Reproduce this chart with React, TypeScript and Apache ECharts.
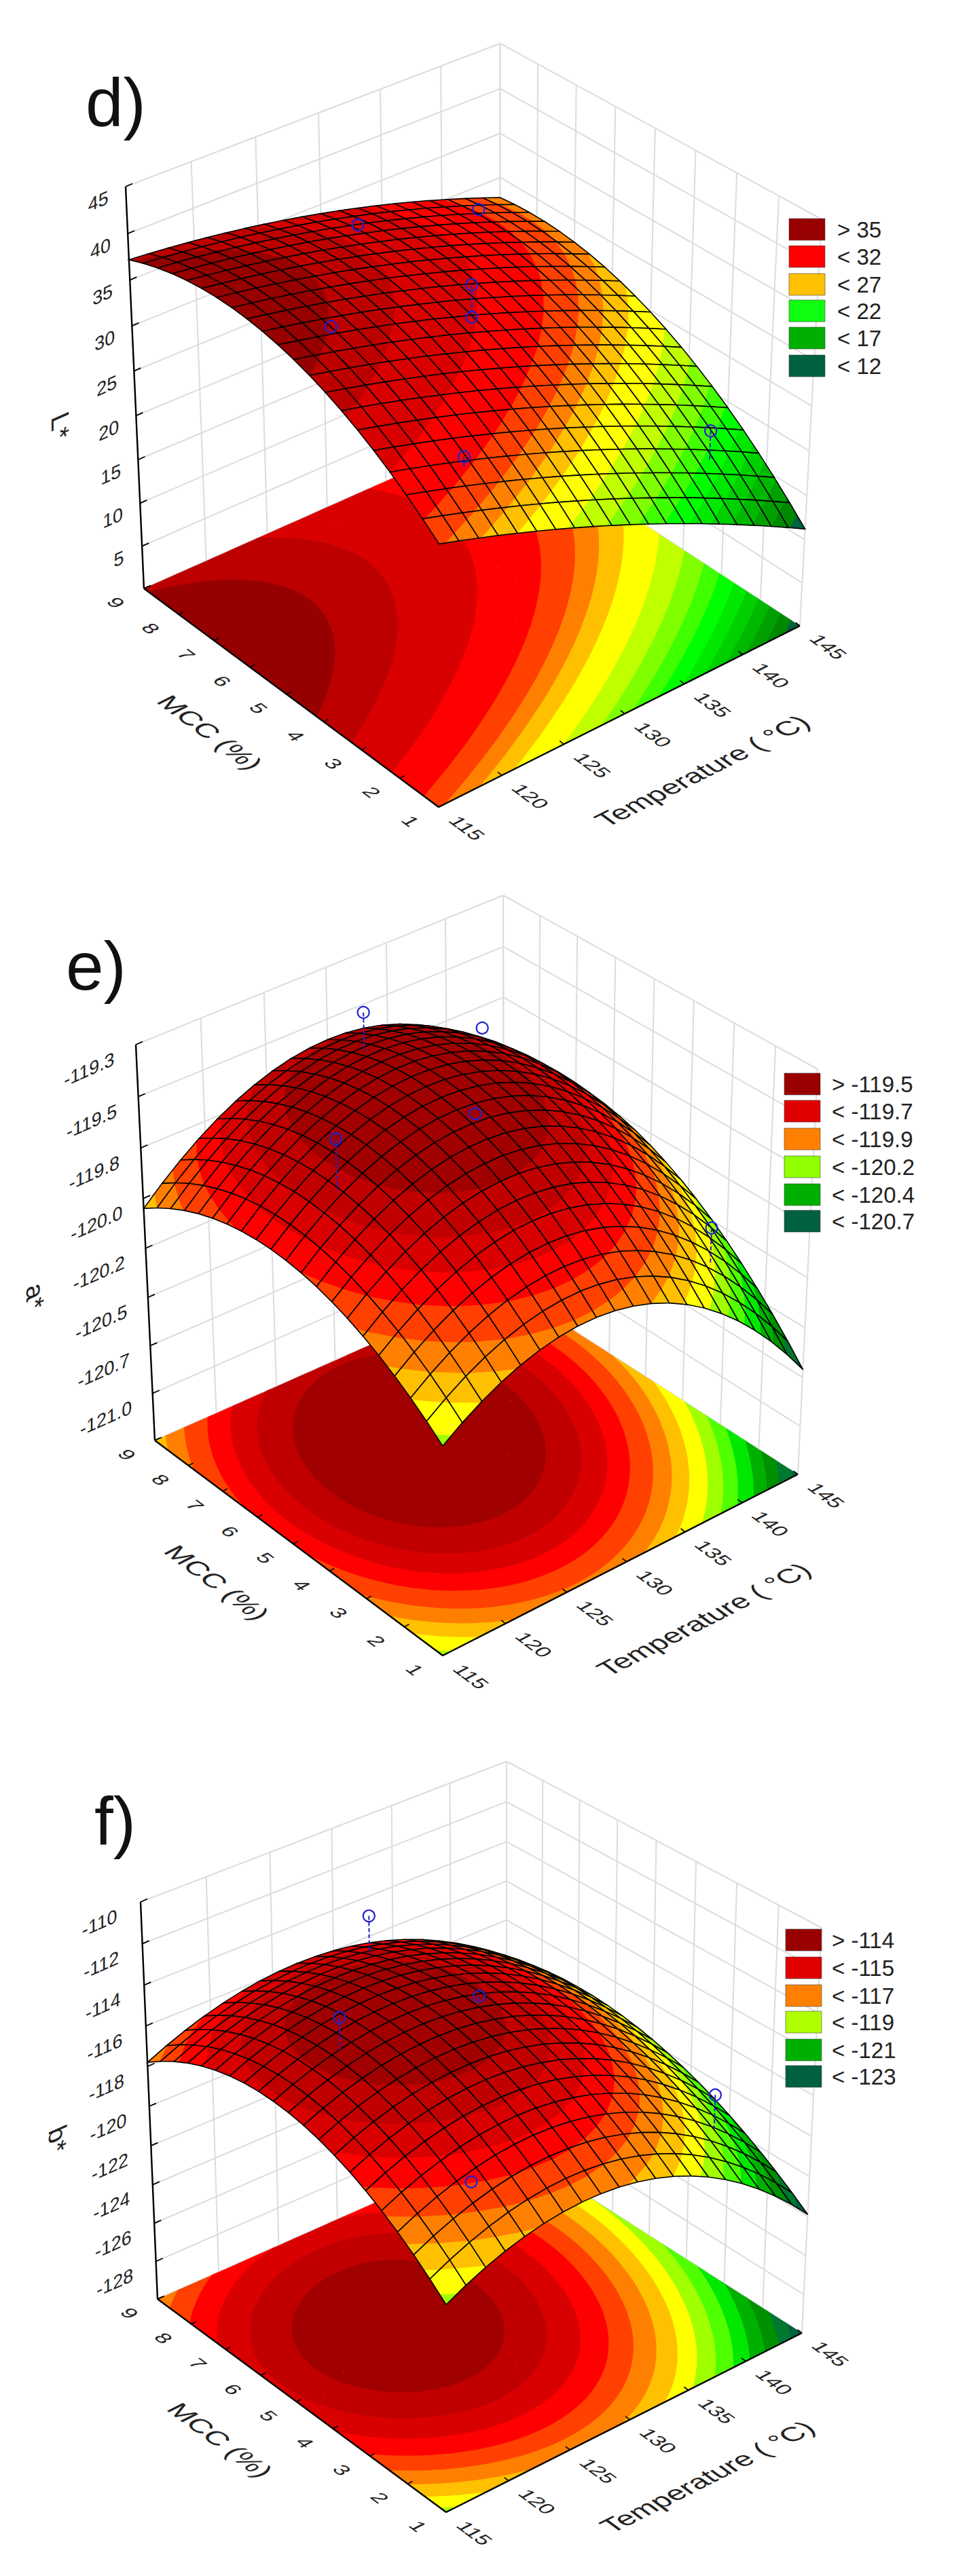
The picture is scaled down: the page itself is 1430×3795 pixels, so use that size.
import React, { useEffect, useRef } from "react";
import * as echarts from "echarts";

// ---------- axis ticks ----------
const tempTicks = [115, 120, 125, 130, 135, 140, 145];
const mccTicks = [1, 2, 3, 4, 5, 6, 7, 8, 9];

const dZTicks = [45, 40, 35, 30, 25, 20, 15, 10, 5, 0];
const dZLabels = ["45", "40", "35", "30", "25", "20", "15", "10", "5", ""];
const eZTicks = [-119.25, -119.5, -119.75, -120, -120.25, -120.5, -120.75, -121, -121.25];
const eZLabels = ["-119.3", "-119.5", "-119.8", "-120.0", "-120.2", "-120.5", "-120.7", "-121.0", ""];
const fZTicks = [-110, -112, -114, -116, -118, -120, -122, -124, -126, -128, -130];
const fZLabels = ["-110", "-112", "-114", "-116", "-118", "-120", "-122", "-124", "-126", "-128", ""];

// ---------- surface heights ----------
// Rows: temperature (115, 130, 145). Columns: MCC (1, 5, 9). The mesh between these
// read values is a quadratic resampling, since the plotted surface is a quadratic fit.
const tempNodes = [115, 130, 145];
const mccNodes = [1, 5, 9];
const dSurface = [
  [28.7, 38.5, 37.2],
  [21.2, 33.0, 34.0],
  [11.2, 24.8, 27.7],
];
const eSurface = [
  [-120.2, -119.82, -120.05],
  [-119.97, -119.47, -119.6],
  [-120.71, -120.06, -120.04],
];
const fSurface = [
  [-119.6, -115.5, -117.8],
  [-118.1, -114.4, -116.0],
  [-123.9, -119.8, -119.9],
];

// ---------- measured points: temperature, MCC, observed, fitted ----------
const dPoints = [
  [119, 5, 38.1, 38.1],
  [133, 9, 31.1, 31.1],
  [130, 5, 36.3, 32.8],
  [130, 5, 32.8, 32.8],
  [140, 8, 31.5, 31.5],
  [120, 2, 31.9, 30.8],
  [140, 2, 22.5, 19.3],
];
const ePoints = [
  [119, 5, -119.35, -119.59],
  [133, 9, -119.54, -119.73],
  [130, 5, -119.52, -119.52],
  [140, 8, -119.68, -119.68],
  [140, 2, -119.99, -120.17],
];
const fPoints = [
  [119, 5, -112.05, -113.58],
  [133, 9, -114.98, -116.86],
  [130, 5, -113.88, -114.2],
  [120, 2, -116.5, -116.5],
  [140, 2, -117.82, -119.44],
];

// ---------- contour levels (lower bound of each band) and colours ----------
const dLevels = [37.4, 35.6, 32.8, 30.1, 28.5, 27.3, 26, 24, 22.3, 20.8, 19.5, 18.2, 17, 15.8, 14.6, 13.4, 12.2];
const eLevels = [-119.5, -119.58, -119.67, -119.75, -119.83, -119.92, -120, -120.08, -120.17, -120.25, -120.33, -120.42, -120.5, -120.58, -120.67, -120.75];
const fLevels = [-114, -114.67, -115.33, -116, -116.67, -117.33, -118, -118.67, -119.33, -120, -120.67, -121.33, -122, -122.67, -123.33, -124];

const dBandColors = ["#960000", "#bc0000", "#d80000", "#ff0000", "#ff4000", "#ff8000", "#ffc000", "#ffff00", "#c0ff00", "#80ff00", "#40ff00", "#00ff00", "#00e800", "#00d000", "#00b800", "#00a000", "#008800", "#006040"];
const efBandColors = ["#a00000", "#a00000", "#c00000", "#d80000", "#ff0000", "#ff4000", "#ff8000", "#ffc000", "#ffff00", "#a0ff00", "#50ff00", "#00e800", "#00b000", "#009000", "#007830", "#006040", "#005040"];

// ---------- legends ----------
const dLegendLabels = ["> 35", "< 32", "< 27", "< 22", "< 17", "< 12"];
const dLegendColors = ["#990000", "#ff0000", "#ffc000", "#10ff10", "#00b000", "#006040"];
const eLegendLabels = ["> -119.5", "< -119.7", "< -119.9", "< -120.2", "< -120.4", "< -120.7"];
const eLegendColors = ["#990000", "#e00000", "#ff8000", "#90ff00", "#00b000", "#006040"];
const fLegendLabels = ["> -114", "< -115", "< -117", "< -119", "< -121", "< -123"];
const fLegendColors = ["#990000", "#e00000", "#ff8000", "#b0ff00", "#00b000", "#006040"];

// ---------- page layout of each 3D box ----------
const W = 1430;
const H = 3795;
const FONT = '"Liberation Sans", Arial, sans-serif';
const PERSPECTIVE = 1.06;
const MESH = 20;
const FLOOR_CELLS = 50;

type P = number[];
const panels = [
  {
    tag: "d)", tagPos: [126, 151], zTitle: "L*", zTitlePos: [89, 628],
    surface: dSurface, points: dPoints, levels: dLevels, colors: dBandColors,
    zTicks: dZTicks, zLabels: dZLabels, legendLabels: dLegendLabels, legendColors: dLegendColors,
    legendX: 1162, legendTextX: 1233, legendY: [322, 362, 403, 442, 482, 523], zLabelOff: [-28, 16],
    LF: [212, 867], FF: [646, 1189], RF: [1178, 922], BF: [736.5, 634],
    LT: [185, 275], FT: [647, 568], RT: [1210, 323], BT: [736.5, 64],
  },
  {
    tag: "e)", tagPos: [97, 1423], zTitle: "a*", zTitlePos: [52, 1910],
    surface: eSurface, points: ePoints, levels: eLevels, colors: efBandColors,
    zTicks: eZTicks, zLabels: eZLabels, legendLabels: eLegendLabels, legendColors: eLegendColors,
    legendX: 1155, legendTextX: 1225, legendY: [1581, 1621, 1662, 1703, 1744, 1783], zLabelOff: [-32, 20],
    LF: [228, 2122], FF: [652, 2439], RF: [1175, 2172], BF: [742, 1894],
    LT: [200, 1539], FT: [652, 1834], RT: [1204, 1575], BT: [741, 1319],
  },
  {
    tag: "f)", tagPos: [139, 2683], zTitle: "b*", zTitlePos: [85, 3152],
    surface: fSurface, points: fPoints, levels: fLevels, colors: efBandColors,
    zTicks: fZTicks, zLabels: fZLabels, legendLabels: fLegendLabels, legendColors: fLegendColors,
    legendX: 1157, legendTextX: 1225, legendY: [2842, 2883, 2924, 2963, 3004, 3043], zLabelOff: [-36, 20],
    LF: [232, 3387], FF: [657, 3701], RF: [1181, 3437], BF: [746, 3159],
    LT: [207, 2802], FT: [657, 3096], RT: [1210, 2840], BT: [746, 2595],
  },
];

// Homography from the unit square to a quad (p0 at 0,0; p1 at 1,0; p2 at 1,1; p3 at 0,1).
function quadMap(p0: P, p1: P, p2: P, p3: P) {
  const dx1 = p1[0] - p2[0], dx2 = p3[0] - p2[0], sx = p0[0] - p1[0] + p2[0] - p3[0];
  const dy1 = p1[1] - p2[1], dy2 = p3[1] - p2[1], sy = p0[1] - p1[1] + p2[1] - p3[1];
  const det = dx1 * dy2 - dx2 * dy1;
  const g = (sx * dy2 - dx2 * sy) / det;
  const h = (dx1 * sy - sx * dy1) / det;
  const a = p1[0] - p0[0] + g * p1[0], b = p3[0] - p0[0] + h * p3[0];
  const d = p1[1] - p0[1] + g * p1[1], e = p3[1] - p0[1] + h * p3[1];
  return (u: number, v: number): P => {
    const q = g * u + h * v + 1;
    return [(a * u + b * v + p0[0]) / q, (d * u + e * v + p0[1]) / q];
  };
}

function makeProjector(p: any) {
  const bottom = quadMap(p.FF, p.RF, p.BF, p.LF);
  const top = quadMap(p.FT, p.RT, p.BT, p.LT);
  const zMax = p.zTicks[0];
  const zMin = p.zTicks[p.zTicks.length - 1];
  return (t: number, m: number, z: number): P => {
    const u = (t - 115) / 30, v = (m - 1) / 8;
    const w = (z - zMin) / (zMax - zMin);
    const k = w / (w + PERSPECTIVE * (1 - w));
    const a = bottom(u, v), b = top(u, v);
    return [a[0] + (b[0] - a[0]) * k, a[1] + (b[1] - a[1]) * k];
  };
}

function quadBasis(t: number) {
  return [2 * (t - 0.5) * (t - 1), -4 * t * (t - 1), 2 * t * (t - 0.5)];
}

function heightAt(table: number[][], t: number, m: number) {
  const a = quadBasis((t - tempNodes[0]) / (tempNodes[2] - tempNodes[0]));
  const b = quadBasis((m - mccNodes[0]) / (mccNodes[2] - mccNodes[0]));
  let s = 0;
  for (let i = 0; i < 3; i++) for (let j = 0; j < 3; j++) s += a[i] * b[j] * table[i][j];
  return s;
}

function clip(poly: P[], level: number, above: boolean) {
  const out: P[] = [];
  for (let i = 0; i < poly.length; i++) {
    const a = poly[i], b = poly[(i + 1) % poly.length];
    const ia = above ? a[2] >= level : a[2] <= level;
    const ib = above ? b[2] >= level : b[2] <= level;
    if (ia) out.push(a);
    if (ia !== ib) {
      const r = (level - a[2]) / (b[2] - a[2]);
      out.push([a[0] + (b[0] - a[0]) * r, a[1] + (b[1] - a[1]) * r, level]);
    }
  }
  return out;
}

function bandOf(levels: number[], z: number) {
  for (let i = 0; i < levels.length; i++) if (z >= levels[i]) return i;
  return levels.length;
}

const unit = (a: P, b: P): P => {
  const l = Math.hypot(b[0] - a[0], b[1] - a[1]);
  return [(b[0] - a[0]) / l, (b[1] - a[1]) / l];
};

// Text laid on a plane: ex and ey are the images of the glyph's right and down directions.
function planeText(text: string, pos: P, ex: P, ey: P, fontSize: number, fill = "#222") {
  const [a, c] = ex, [b, d] = ey;
  const E = (a + d) / 2, F = (a - d) / 2, G = (c + b) / 2, K = (c - b) / 2;
  const Q = Math.hypot(E, K), R = Math.hypot(F, G);
  const a1 = Math.atan2(G, F), a2 = Math.atan2(K, E);
  const theta = (a2 - a1) / 2, phi = (a2 + a1) / 2;
  return {
    type: "group", x: pos[0], y: pos[1], rotation: -phi, scaleX: Q + R, scaleY: Q - R,
    children: [{
      type: "text", rotation: -theta,
      style: { text, x: 0, y: 0, fontSize, fontFamily: FONT, fill, align: "center", verticalAlign: "middle" },
    }],
  };
}

function buildSeries() {
  const series: any[] = [];
  panels.forEach((p: any) => {
    const proj = makeProjector(p);
    const zMax = p.zTicks[0];
    const zMin = p.zTicks[p.zTicks.length - 1];
    const eT = unit(p.FF, p.RF);
    const eM = unit(p.FF, p.LF);
    const eW = unit(p.LF, p.BF);
    const base = { type: "custom", coordinateSystem: "cartesian2d", silent: true, clip: false, progressive: 0, encode: { x: 0, y: 1 } };

    // Walls: gridlines first
    series.push({
      ...base,
      data: [[0, 0]],
      renderItem: (_: any, api: any) => {
        const c = (q: P) => api.coord([q[0], q[1]]);
        const ln = (a: P, b: P, stroke: string, lineWidth: number) => {
          const A = c(a), B = c(b);
          return { type: "line", shape: { x1: A[0], y1: A[1], x2: B[0], y2: B[1] }, style: { stroke, lineWidth } };
        };
        const grid = "#dcdcdc";
        const kids: any[] = [];
        tempTicks.forEach((t) => kids.push(ln(proj(t, 9, zMin), proj(t, 9, zMax), grid, 2)));
        mccTicks.forEach((m) => kids.push(ln(proj(145, m, zMin), proj(145, m, zMax), grid, 2)));
        p.zTicks.forEach((z: number) => {
          kids.push(ln(proj(115, 9, z), proj(145, 9, z), grid, 2));
          kids.push(ln(proj(145, 9, z), proj(145, 1, z), grid, 2));
        });
        return { type: "group", children: kids };
      },
    });

    // Floor contour bands
    const bandCount = p.levels.length + 1;
    const bandPolys: P[][][] = Array.from({ length: bandCount }, () => []);
    for (let i = 0; i < FLOOR_CELLS; i++) {
      for (let j = 0; j < FLOOR_CELLS; j++) {
        const corners = [[i, j], [i + 1, j], [i + 1, j + 1], [i, j + 1]].map(([a, b]) => {
          const t = 115 + (30 * a) / FLOOR_CELLS, m = 1 + (8 * b) / FLOOR_CELLS;
          const s = proj(t, m, zMin);
          return [s[0], s[1], heightAt(p.surface, t, m)];
        });
        const zs = corners.map((q) => q[2]);
        const hi = bandOf(p.levels, Math.max(...zs));
        const lo = bandOf(p.levels, Math.min(...zs));
        for (let b = hi; b <= lo; b++) {
          let poly: P[] = corners;
          if (b < p.levels.length) poly = clip(poly, p.levels[b], true);
          if (b > 0) poly = clip(poly, p.levels[b - 1] + Math.abs(p.levels[0] - p.levels[1]) * 0.15, false);
          if (poly.length > 2) bandPolys[b].push(poly);
        }
      }
    }
    const floorOrder = bandPolys.map((_, i) => bandCount - 1 - i);
    series.push({
      ...base,
      data: floorOrder.map((b) => [b, 0]),
      renderItem: (params: any, api: any) => {
        const b = floorOrder[params.dataIndex];
        const polys = bandPolys[b];
        if (!polys.length) return { type: "group", children: [] };
        let d = "";
        polys.forEach((poly) => {
          poly.forEach((q, k) => {
            const s = api.coord([q[0], q[1]]);
            d += (k ? "L" : "M") + s[0].toFixed(1) + " " + s[1].toFixed(1);
          });
          d += "Z";
        });
        return { type: "path", shape: { pathData: d }, style: { fill: p.colors[b], stroke: null } };
      },
    });

    // Box axes, ticks and labels (under the surface)
    series.push({
      ...base,
      data: [[0, 0]],
      renderItem: (_: any, api: any) => {
        const c = (q: P) => api.coord([q[0], q[1]]);
        const ln = (a: P, b: P, lineWidth: number) => {
          const A = c(a), B = c(b);
          return { type: "line", shape: { x1: A[0], y1: A[1], x2: B[0], y2: B[1] }, style: { stroke: "#000", lineWidth } };
        };
        const kids: any[] = [];
        kids.push(ln(proj(115, 1, zMin), proj(145, 1, zMin), 2.4));
        kids.push(ln(proj(115, 1, zMin), proj(115, 9, zMin), 2.4));
        kids.push(ln(proj(115, 9, zMin), proj(115, 9, zMax), 2.4));
        tempTicks.forEach((t) => {
          const q = proj(t, 1, zMin);
          kids.push(ln(q, [q[0] + eM[0] * 8, q[1] + eM[1] * 8], 1.6));
          kids.push(planeText(String(t), c([q[0] - eM[0] * 52, q[1] - eM[1] * 52]),
            [-eM[0] * 1.12, -eM[1] * 1.12], [-eT[0], -eT[1]], 28));
        });
        mccTicks.forEach((m) => {
          const q = proj(115, m, zMin);
          kids.push(ln(q, [q[0] + eT[0] * 8, q[1] + eT[1] * 8], 1.6));
          kids.push(planeText(String(m), c([q[0] - eT[0] * 46, q[1] - eT[1] * 46]),
            [-eM[0] * 1.12, -eM[1] * 1.12], [-eT[0], -eT[1]], 28));
        });
        p.zTicks.forEach((z: number, i: number) => {
          const q = proj(115, 9, z);
          kids.push(ln(q, [q[0] + eW[0] * 11, q[1] + eW[1] * 11], 1.8));
          if (p.zLabels[i]) {
            kids.push(planeText(p.zLabels[i], c([q[0] + p.zLabelOff[0] - 40 * eW[0] * (p.zLabels[i].length / 6), q[1] + p.zLabelOff[1] - 40 * eW[1] * (p.zLabels[i].length / 6)]),
              [eW[0] * 1.05, eW[1] * 1.05], [0, 1], 28));
          }
        });
        const t130 = proj(130, 1, zMin);
        kids.push(planeText("Temperature ( \u00b0C)", c([t130[0] - eM[0] * 142, t130[1] - eM[1] * 142]),
          [eT[0] * 1.12, eT[1] * 1.12], [-eM[0], -eM[1]], 38));
        const m5 = proj(115, 5, zMin);
        kids.push(planeText("MCC (%)", c([m5[0] - eT[0] * 126, m5[1] - eT[1] * 126]),
          [-eM[0] * 1.1, -eM[1] * 1.1], [-eT[0], -eT[1]], 38));
        kids.push(planeText(p.zTitle, c(p.zTitlePos), [0, 1], [-eW[0], -eW[1]], 40));
        const tg = c(p.tagPos);
        kids.push({ type: "text", style: { text: p.tag, x: tg[0], y: tg[1], fontSize: 100, fontFamily: FONT, fill: "#111", align: "left", verticalAlign: "middle" } });
        p.legendLabels.forEach((label: string, i: number) => {
          const q = c([p.legendX, p.legendY[i]]);
          const q2 = c([p.legendX + 53, p.legendY[i] + 32]);
          kids.push({
            type: "rect", shape: { x: q[0], y: q[1], width: q2[0] - q[0], height: q2[1] - q[1] },
            style: { fill: p.legendColors[i], stroke: "#444", lineWidth: 0.6 },
          });
          const tx = c([p.legendTextX, p.legendY[i] + 16]);
          kids.push({ type: "text", style: { text: label, x: tx[0], y: tx[1], fontSize: 33, fontFamily: FONT, fill: "#222", align: "left", verticalAlign: "middle" } });
        });
        return { type: "group", children: kids };
      },
    });

    // Surface: cells painted from the far corner to the near corner
    const cells: number[][] = [];
    for (let i = MESH - 1; i >= 0; i--) for (let j = MESH - 1; j >= 0; j--) cells.push([i, j]);
    const node = (a: number, b: number) => {
      const t = 115 + (30 * a) / MESH, m = 1 + (8 * b) / MESH;
      const z = heightAt(p.surface, t, m);
      const s = proj(t, m, z);
      return [s[0], s[1], z];
    };
    series.push({
      ...base,
      data: cells,
      renderItem: (params: any, api: any) => {
        const [i, j] = cells[params.dataIndex];
        const quad = [node(i, j), node(i + 1, j), node(i + 1, j + 1), node(i, j + 1)];
        const toPx = (poly: P[]) => poly.map((q) => api.coord([q[0], q[1]]));
        const zs = quad.map((q) => q[2]);
        const lo = bandOf(p.levels, Math.min(...zs));
        const hi = bandOf(p.levels, Math.max(...zs));
        const kids: any[] = [{
          type: "polygon", shape: { points: toPx(quad) },
          style: { fill: p.colors[lo], stroke: p.colors[lo], lineWidth: 0.6 },
        }];
        for (let b = lo - 1; b >= hi; b--) {
          const poly = clip(quad, p.levels[b], true);
          if (poly.length > 2) kids.push({ type: "polygon", shape: { points: toPx(poly) }, style: { fill: p.colors[b] } });
        }
        kids.push({
          type: "polygon", shape: { points: toPx(quad) },
          style: { fill: "none", stroke: "#000", lineWidth: 1.6 },
        });
        return { type: "group", children: kids };
      },
    });

    // Measured points with their stems to the fitted surface
    series.push({
      ...base,
      data: p.points.map((q: number[]) => [q[0], q[1]]),
      renderItem: (params: any, api: any) => {
        const [t, m, obs, fit] = p.points[params.dataIndex];
        const a = api.coord(proj(t, m, obs));
        const b = api.coord(proj(t, m, fit));
        return {
          type: "group",
          children: [
            { type: "line", shape: { x1: a[0], y1: a[1], x2: b[0], y2: b[1] }, style: { stroke: "#2222cc", lineWidth: 2, lineDash: [6, 3] } },
            { type: "circle", shape: { cx: a[0], cy: a[1], r: 8.5 }, style: { fill: "none", stroke: "#2222cc", lineWidth: 2.2 } },
          ],
        };
      },
    });
  });
  return series;
}

export default function App() {
  const ref = useRef<HTMLDivElement>(null);
  useEffect(() => {
    document.body.style.margin = "0";
    document.body.style.background = "#fff";
    const chart = echarts.init(ref.current!, undefined, { renderer: "svg" });
    chart.setOption({
      animation: false,
      backgroundColor: "#ffffff",
      tooltip: { show: false },
      grid: { left: 0, right: 0, top: 0, bottom: 0 },
      xAxis: { type: "value", min: 0, max: W, show: false },
      yAxis: { type: "value", min: 0, max: H, inverse: true, show: false },
      series: buildSeries(),
    });
    return () => chart.dispose();
  }, []);
  return <div ref={ref} style={{ width: W, height: H }} />;
}
